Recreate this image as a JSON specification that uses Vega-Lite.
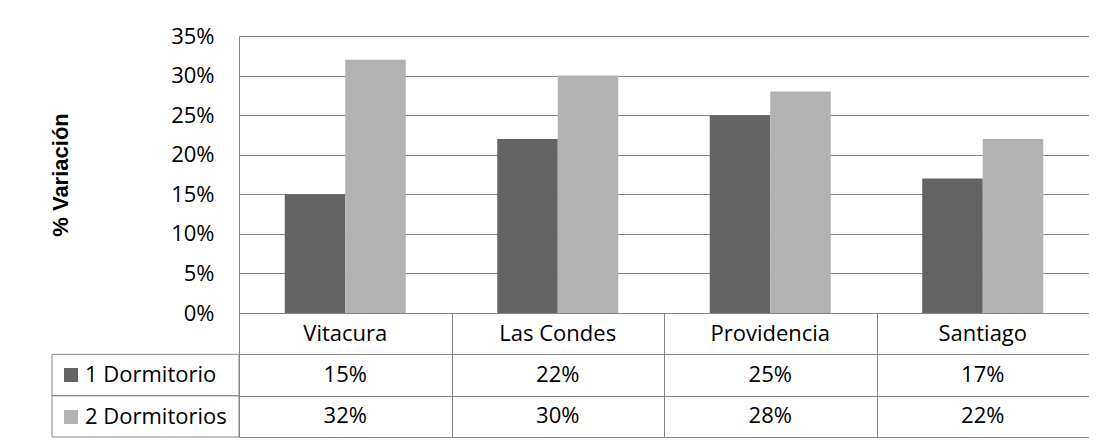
{
  "$schema": "https://vega.github.io/schema/vega-lite/v6.json",
  "background": "white",
  "padding": {"left": 49, "top": 25, "right": 0, "bottom": 0},
  "config": {
    "font": "Open Sans",
    "view": {"stroke": null},
    "text": {"color": "#000000"}
  },
  "datasets": {
    "variacion": [
      {"comuna": "Vitacura", "serie": "1 Dormitorio", "variacion": 0.15},
      {"comuna": "Vitacura", "serie": "2 Dormitorios", "variacion": 0.32},
      {"comuna": "Las Condes", "serie": "1 Dormitorio", "variacion": 0.22},
      {"comuna": "Las Condes", "serie": "2 Dormitorios", "variacion": 0.30},
      {"comuna": "Providencia", "serie": "1 Dormitorio", "variacion": 0.25},
      {"comuna": "Providencia", "serie": "2 Dormitorios", "variacion": 0.28},
      {"comuna": "Santiago", "serie": "1 Dormitorio", "variacion": 0.17},
      {"comuna": "Santiago", "serie": "2 Dormitorios", "variacion": 0.22}
    ]
  },
  "columns": 2,
  "align": "each",
  "bounds": "flush",
  "spacing": 0,
  "resolve": {"legend": {"color": "independent"}},
  "concat": [
    {
      "width": 187,
      "height": 277,
      "data": {"values": []},
      "mark": "text",
      "encoding": {}
    },
    {
      "width": 850,
      "height": 277,
      "data": {"name": "variacion"},
      "mark": {"type": "bar"},
      "encoding": {
        "x": {
          "field": "comuna",
          "type": "nominal",
          "sort": ["Vitacura", "Las Condes", "Providencia", "Santiago"],
          "scale": {"paddingInner": 0, "paddingOuter": 0},
          "axis": null
        },
        "xOffset": {
          "field": "serie",
          "type": "nominal",
          "scale": {"paddingInner": 0, "paddingOuter": 0.756}
        },
        "y": {
          "field": "variacion",
          "type": "quantitative",
          "scale": {"domain": [0, 0.35], "nice": false},
          "axis": {
            "title": "% Variación",
            "format": ".0%",
            "values": [0, 0.05, 0.1, 0.15, 0.2, 0.25, 0.3, 0.35],
            "grid": true,
            "gridColor": "#868686",
            "gridWidth": 1,
            "domain": true,
            "domainColor": "#868686",
            "domainWidth": 1,
            "ticks": false,
            "tickSize": 0,
            "labelPadding": 25,
            "labelFontSize": 22,
            "labelColor": "#000000",
            "titleFont": "Liberation Sans",
            "titleFontSize": 22,
            "titleFontWeight": "bold",
            "titleColor": "#000000",
            "titlePadding": 98
          }
        },
        "color": {
          "field": "serie",
          "type": "nominal",
          "scale": {"domain": ["1 Dormitorio", "2 Dormitorios"], "range": ["#646464", "#b2b2b2"]},
          "legend": {
            "orient": "none",
            "legendX": -179,
            "legendY": 328,
            "title": null,
            "padding": 0,
            "symbolType": "square",
            "symbolSize": 196,
            "symbolStrokeWidth": 0,
            "symbolOpacity": 1,
            "labelFontSize": 22,
            "labelColor": "#000000",
            "labelOffset": 3,
            "labelLimit": 300,
            "rowPadding": 20
          }
        }
      }
    },
    {
      "width": 187,
      "height": 124,
      "data": {"name": "variacion"},
      "transform": [{"filter": "datum.comuna == 'Vitacura'"}],
      "mark": {"type": "rect", "filled": false, "color": "#868686", "strokeWidth": 1},
      "encoding": {
        "y": {
          "field": "serie",
          "type": "nominal",
          "scale": {"domain": ["Comuna", "1 Dormitorio", "2 Dormitorios"], "paddingInner": 0, "paddingOuter": 0},
          "axis": null
        }
      }
    },
    {
      "width": 850,
      "height": 124,
      "data": {"name": "variacion"},
      "encoding": {
        "x": {
          "field": "comuna",
          "type": "nominal",
          "sort": ["Vitacura", "Las Condes", "Providencia", "Santiago"],
          "scale": {"paddingInner": 0, "paddingOuter": 0},
          "axis": {
            "title": null,
            "labels": false,
            "ticks": false,
            "domain": false,
            "grid": true,
            "tickBand": "extent",
            "gridColor": "#868686",
            "gridWidth": 1
          }
        }
      },
      "layer": [
        {
          "transform": [{"filter": "datum.serie == '1 Dormitorio'"}],
          "mark": {"type": "text", "fontSize": 22, "color": "#000000"},
          "encoding": {
            "y": {
              "datum": "Comuna",
              "type": "nominal",
              "scale": {"domain": ["Comuna", "1 Dormitorio", "2 Dormitorios"], "paddingInner": 0, "paddingOuter": 0},
              "axis": {
                "title": null,
                "labels": false,
                "ticks": false,
                "domain": false,
                "grid": true,
                "tickBand": "extent",
                "gridColor": "#868686",
                "gridWidth": 1
              }
            },
            "text": {"field": "comuna"}
          }
        },
        {
          "mark": {"type": "text", "fontSize": 22, "color": "#000000"},
          "encoding": {
            "y": {
              "field": "serie",
              "type": "nominal",
              "scale": {"domain": ["Comuna", "1 Dormitorio", "2 Dormitorios"], "paddingInner": 0, "paddingOuter": 0}
            },
            "text": {"field": "variacion", "format": ".0%"}
          }
        }
      ]
    }
  ]
}
